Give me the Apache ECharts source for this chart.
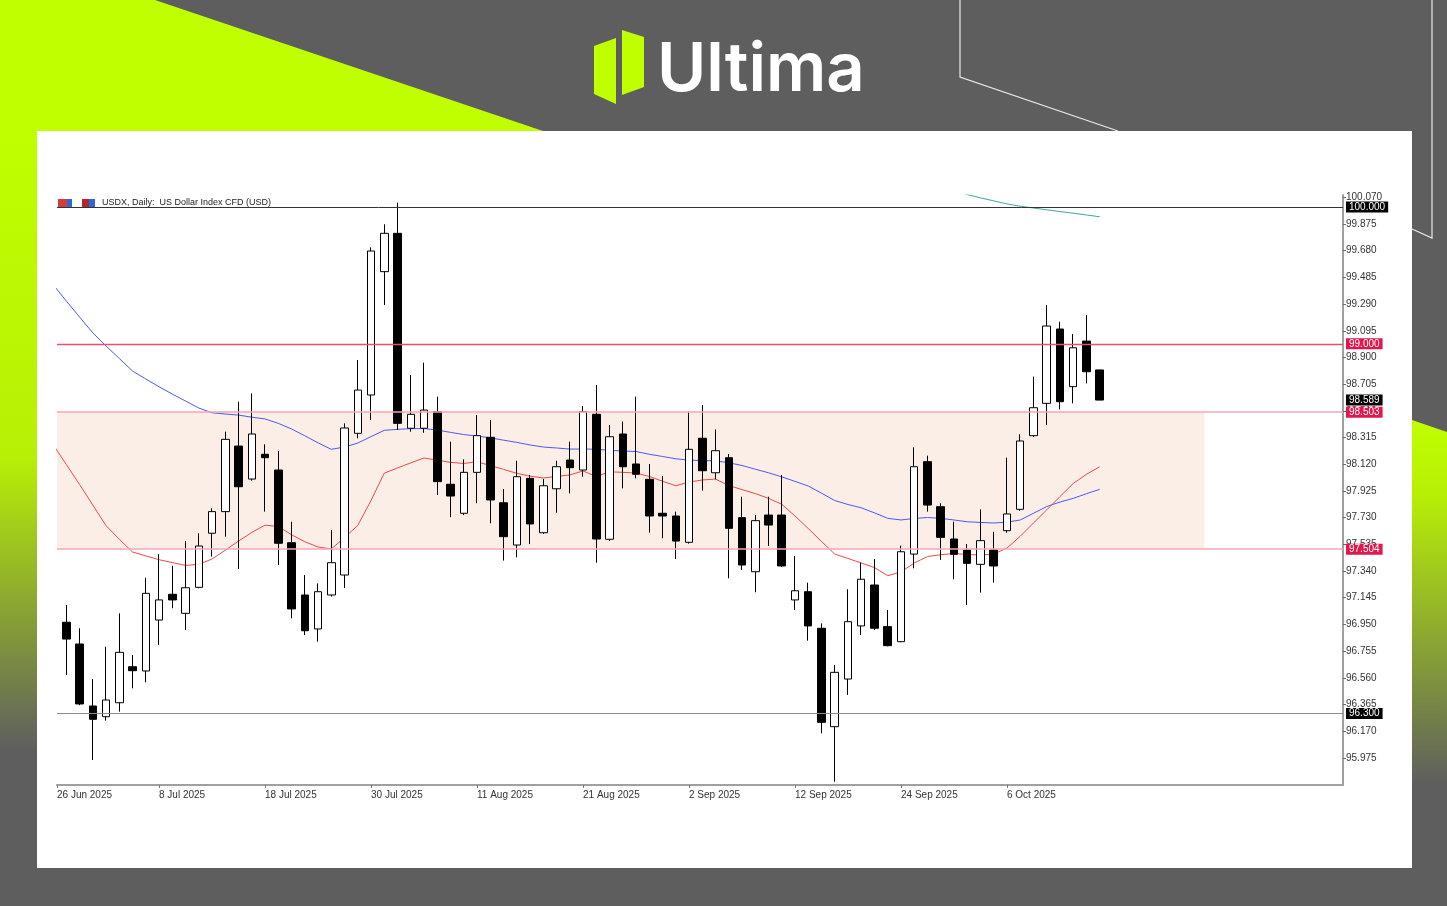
<!DOCTYPE html>
<html>
<head>
<meta charset="utf-8">
<script src="https://cdn.jsdelivr.net/npm/echarts@6.0.0/dist/echarts.min.js"></script>
<style>
  html, body { margin: 0; padding: 0; background: #5e5e5e; }
  #chart { width: 1447px; height: 906px; }
</style>
</head>
<body>
<div id="chart"></div>
<script>
// USDX daily, 26 Jun - 15 Oct 2025
const dates = [
  "26 Jun", "27 Jun", "30 Jun", "1 Jul", "2 Jul", "3 Jul", "4 Jul", "7 Jul", "8 Jul", "9 Jul",
  "10 Jul", "11 Jul", "14 Jul", "15 Jul", "16 Jul", "17 Jul", "18 Jul", "21 Jul", "22 Jul", "23 Jul",
  "24 Jul", "25 Jul", "28 Jul", "29 Jul", "30 Jul", "31 Jul", "1 Aug", "4 Aug", "5 Aug", "6 Aug",
  "7 Aug", "8 Aug", "11 Aug", "12 Aug", "13 Aug", "14 Aug", "15 Aug", "18 Aug", "19 Aug", "20 Aug",
  "21 Aug", "22 Aug", "25 Aug", "26 Aug", "27 Aug", "28 Aug", "29 Aug", "1 Sep", "2 Sep", "3 Sep",
  "4 Sep", "5 Sep", "8 Sep", "9 Sep", "10 Sep", "11 Sep", "12 Sep", "15 Sep", "16 Sep", "17 Sep",
  "18 Sep", "19 Sep", "22 Sep", "23 Sep", "24 Sep", "25 Sep", "26 Sep", "29 Sep", "30 Sep", "1 Oct",
  "2 Oct", "3 Oct", "6 Oct", "7 Oct", "8 Oct", "9 Oct", "10 Oct", "13 Oct", "14 Oct", "15 Oct"
];
const opens = [
  96.92, 96.966, 96.807, 96.354, 96.276, 96.378, 96.641, 96.61, 96.982, 97.17,
  97.031, 97.221, 97.616, 97.774, 98.253, 98.012, 98.193, 98.078, 97.547, 97.165,
  96.917, 97.165, 97.311, 98.346, 98.626, 99.527, 99.807, 98.383, 98.383, 98.504,
  97.974, 97.762, 98.061, 98.317, 97.839, 97.53, 98.017, 97.62, 97.941, 98.151,
  98.078, 98.485, 97.572, 98.341, 98.122, 98.01, 97.762, 97.742, 97.55, 98.31,
  98.058, 98.168, 97.73, 97.335, 97.749, 97.749, 97.129, 97.189, 96.922, 96.203,
  96.551, 96.939, 97.238, 96.934, 96.824, 97.464, 98.139, 97.81, 97.574, 97.494,
  97.389, 97.494, 97.635, 97.791, 98.329, 98.565, 99.108, 98.687, 99.02, 98.809
];
const closes = [
  97.08, 96.843, 96.369, 96.257, 96.398, 96.746, 96.612, 97.177, 97.129, 97.129,
  97.218, 97.523, 97.774, 98.302, 97.956, 98.341, 98.168, 97.543, 97.063, 96.904,
  97.189, 97.401, 98.385, 98.662, 99.678, 99.807, 98.419, 98.485, 98.516, 97.993,
  97.888, 98.061, 98.329, 97.859, 97.591, 98.029, 97.684, 97.963, 98.102, 98.095,
  98.504, 97.574, 98.321, 98.102, 98.047, 97.742, 97.742, 97.559, 98.229, 98.073,
  98.219, 97.652, 97.384, 97.708, 97.676, 97.377, 97.196, 96.939, 96.235, 96.6,
  96.97, 97.28, 96.922, 96.795, 97.481, 98.102, 97.822, 97.586, 97.462, 97.396,
  97.562, 97.377, 97.757, 98.29, 98.533, 99.13, 98.577, 98.971, 98.796, 98.589
];
const lows = [
  96.88, 96.581, 96.36, 95.96, 96.247, 96.313, 96.483, 96.527, 96.8, 97.068,
  96.909, 97.214, 97.445, 97.591, 97.355, 98.0, 97.774, 97.384, 96.995, 96.873,
  96.824, 97.153, 97.216, 98.31, 98.443, 99.283, 98.37, 98.358, 98.35, 97.895,
  97.733, 97.749, 97.835, 97.689, 97.416, 97.44, 97.537, 97.611, 97.766, 97.908,
  98.029, 97.401, 97.56, 97.944, 98.017, 97.62, 97.579, 97.428, 97.54, 97.927,
  98.01, 97.287, 97.348, 97.185, 97.523, 97.37, 97.055, 96.831, 96.155, 95.801,
  96.435, 96.873, 96.91, 96.79, 96.82, 97.36, 97.774, 97.421, 97.28, 97.092,
  97.182, 97.255, 97.62, 97.78, 98.32, 98.407, 98.521, 98.565, 98.711, 98.589
];
const highs = [
  97.12, 97.092, 96.922, 96.551, 96.787, 97.031, 96.727, 97.291, 97.464, 97.379,
  97.559, 97.616, 97.798, 98.358, 98.577, 98.638, 98.266, 98.217, 97.7, 97.311,
  97.25, 97.64, 98.419, 98.882, 99.705, 99.873, 100.031, 98.772, 98.862, 98.614,
  98.285, 98.156, 98.48, 98.443, 97.939, 98.146, 98.042, 98.012, 98.146, 98.285,
  98.546, 98.699, 98.407, 98.432, 98.614, 98.122, 98.034, 97.774, 98.504, 98.553,
  98.375, 98.195, 97.883, 97.749, 97.883, 98.042, 97.45, 97.255, 96.958, 96.654,
  97.207, 97.401, 97.428, 97.055, 97.525, 98.244, 98.183, 97.835, 97.7, 97.537,
  97.791, 97.627, 98.168, 98.339, 98.76, 99.283, 99.161, 99.071, 99.21, 98.809
];
// moving averages
const maBlue = [
  99.433, 99.313, 99.196, 99.08, 98.984, 98.893, 98.801, 98.743, 98.686, 98.633,
  98.582, 98.531, 98.496, 98.487, 98.479, 98.464, 98.451, 98.419, 98.378, 98.328,
  98.277, 98.229, 98.246, 98.275, 98.322, 98.368, 98.375, 98.38, 98.381, 98.37,
  98.353, 98.337, 98.326, 98.313, 98.296, 98.28, 98.261, 98.246, 98.239, 98.231,
  98.231, 98.23, 98.222, 98.217, 98.213, 98.193, 98.177, 98.16, 98.15, 98.147,
  98.145, 98.131, 98.111, 98.084, 98.058, 98.028, 97.995, 97.961, 97.909, 97.855,
  97.826, 97.802, 97.765, 97.725, 97.713, 97.724, 97.731, 97.725, 97.713, 97.7,
  97.695, 97.691, 97.697, 97.713, 97.762, 97.811, 97.844, 97.871, 97.905, 97.937
];
const maRed = [
  98.264, 98.119, 97.973, 97.822, 97.672, 97.573, 97.479, 97.451, 97.423, 97.402,
  97.381, 97.389, 97.428, 97.492, 97.559, 97.622, 97.675, 97.666, 97.605, 97.554,
  97.516, 97.501, 97.584, 97.673, 97.855, 98.055, 98.093, 98.13, 98.166, 98.15,
  98.134, 98.126, 98.138, 98.111, 98.083, 98.054, 98.033, 98.02, 98.031, 98.042,
  98.071, 98.031, 98.065, 98.061, 98.056, 98.031, 97.996, 97.963, 97.99, 98.005,
  98.012, 97.965, 97.935, 97.906, 97.871, 97.828, 97.742, 97.651, 97.556, 97.464,
  97.432, 97.399, 97.365, 97.306, 97.333, 97.399, 97.446, 97.459, 97.468, 97.461,
  97.457, 97.464, 97.508, 97.594, 97.691, 97.787, 97.884, 97.98, 98.047, 98.102
];
const maTealStart = 68;
const maTeal = [100.125, 100.09, 100.066, 100.044, 100.022, 100.005, 99.992, 99.979, 99.966, 99.954, 99.941, 99.928];

const xLabelIdx = [0, 8, 16, 24, 32, 40, 48, 56, 64, 72];
const xLabels = ["26 Jun 2025", "8 Jul 2025", "18 Jul 2025", "30 Jul 2025", "11 Aug 2025",
  "21 Aug 2025", "2 Sep 2025", "12 Sep 2025", "24 Sep 2025", "6 Oct 2025"];
const yTicks = [95.975, 96.170, 96.365, 96.560, 96.755, 96.950, 97.145, 97.340, 97.535, 97.730,
  97.925, 98.120, 98.315, 98.510, 98.705, 98.900, 99.095, 99.290, 99.485, 99.680, 99.875, 100.070];

// levels drawn on the chart
const levelTop = 100.000;
const levelRes = 99.000;
const zoneHigh = 98.503;
const zoneLow = 97.504;
const zoneEnd = 86.9;
const levelLow = 96.300;
const lastPrice = 98.589;

const xMin = 0.3, xMax = 97.36;
const yMin = 95.777, yMax = 100.087;

const LIME = "#bfff00";
const GRAY = "#5e5e5e";
const RED = "#e3174b";

const xTickVals = xLabelIdx.map(i => Math.max(i, xMin));
const xLabelFor = v => {
  let best = 0;
  xTickVals.forEach((t, i) => { if (Math.abs(t - v) < Math.abs(xTickVals[best] - v)) best = i; });
  return xLabels[best];
};

const chart = echarts.init(document.getElementById("chart"));

const priceTag = (value, bg, lineColor, width) => ({
  yAxis: value,
  lineStyle: { color: lineColor, width: width, type: "solid" },
  label: {
    show: true,
    position: "end",
    distance: 3,
    formatter: value.toFixed(3),
    color: "#fff",
    backgroundColor: bg,
    padding: [1, 3, 0, 3],
    fontSize: 10,
    fontFamily: "Liberation Sans"
  }
});

chart.setOption({
  backgroundColor: GRAY,
  animation: false,
  graphic: {
    elements: [
      { type: "polygon", z: -10, silent: true,
        shape: { points: [[0, 0], [155, 0], [543, 131], [0, 131]] }, style: { fill: LIME } },
      { type: "rect", z: -10, silent: true,
        shape: { x: 0, y: 131, width: 37, height: 775 },
        style: { fill: new echarts.graphic.LinearGradient(0, 0, 0, 1, [
          { offset: 0, color: LIME }, { offset: 0.42, color: "#b8f005" }, { offset: 0.8, color: GRAY }, { offset: 1, color: GRAY }]) } },
      { type: "polygon", z: -10, silent: true,
        shape: { points: [[1412, 420], [1447, 432], [1447, 906], [1412, 906]] },
        style: { fill: new echarts.graphic.LinearGradient(0, 0, 0, 1, [
          { offset: 0, color: LIME }, { offset: 0.15, color: "#b8f005" }, { offset: 0.75, color: GRAY }, { offset: 1, color: GRAY }]) } },
      { type: "polyline", z: -9, silent: true,
        shape: { points: [[960, 0], [960, 77], [1118, 131]] }, style: { stroke: "#e8e8e8", lineWidth: 1.2, fill: null } },
      { type: "polyline", z: -9, silent: true,
        shape: { points: [[1432, 0], [1432, 238], [1412, 229]] }, style: { stroke: "#e8e8e8", lineWidth: 1.2, fill: null } },
      { type: "rect", z: -8, silent: true,
        shape: { x: 37, y: 131, width: 1375, height: 737 }, style: { fill: "#fff" } },
      // logo
      { type: "polygon", z: -8, silent: true,
        shape: { points: [[594, 46], [616, 38], [616, 104], [594, 94]] }, style: { fill: LIME } },
      { type: "polygon", z: -8, silent: true,
        shape: { points: [[622, 30], [644, 37], [644, 87], [622, 95]] }, style: { fill: LIME } },
      { type: "text", z: -8, silent: true,
        style: { text: "Ultima", x: 657, y: 71, fill: "#fff", font: "600 67px Inter", textAlign: "left", textVerticalAlign: "middle" } },
      // chart caption
      { type: "rect", z: 10, silent: true, shape: { x: 58, y: 199, width: 9, height: 8 }, style: { fill: "#d83a3a" } },
      { type: "rect", z: 10, silent: true, shape: { x: 67, y: 199, width: 5, height: 8 }, style: { fill: "#2f66d8" } },
      { type: "rect", z: 10, silent: true, shape: { x: 82, y: 199, width: 7, height: 8 }, style: { fill: "#b02828" } },
      { type: "rect", z: 10, silent: true, shape: { x: 89, y: 199, width: 6, height: 8 }, style: { fill: "#2f66d8" } },
      { type: "text", z: 10, silent: true,
        style: { text: "USDX, Daily:  US Dollar Index CFD (USD)", x: 102, y: 203, fill: "#222",
          font: "9px Liberation Sans", textAlign: "left", textVerticalAlign: "middle" } }
    ]
  },
  grid: { left: 57, right: 104, top: 195, bottom: 121, containLabel: false },
  xAxis: {
    type: "value",
    min: xMin,
    max: xMax,
    splitLine: { show: false },
    axisLine: { show: true, onZero: false, lineStyle: { color: "#a0a0a0", width: 2 } },
    axisTick: { show: true, customValues: xTickVals, length: 3, lineStyle: { color: "#777" } },
    axisLabel: {
      customValues: xTickVals,
      formatter: xLabelFor,
      align: "left",
      margin: 5,
      color: "#333",
      fontSize: 10,
      fontFamily: "Liberation Sans"
    }
  },
  yAxis: {
    type: "value",
    position: "right",
    min: yMin,
    max: yMax,
    scale: true,
    splitLine: { show: false },
    axisLine: { show: true, lineStyle: { color: "#a0a0a0", width: 2 } },
    axisTick: { show: true, customValues: yTicks, length: 3, lineStyle: { color: "#666" } },
    axisLabel: {
      customValues: yTicks,
      formatter: v => v.toFixed(3),
      margin: 3,
      color: "#333",
      fontSize: 10,
      fontFamily: "Liberation Sans"
    }
  },
  series: [
    {
      name: "levels",
      type: "line",
      data: [],
      z: 1,
      markArea: {
        silent: true,
        itemStyle: { color: "#faeee6" },
        data: [[{ xAxis: xMin, yAxis: zoneHigh }, { xAxis: zoneEnd, yAxis: zoneLow }]]
      },
      markLine: {
        silent: true,
        symbol: ["none", "none"],
        animation: false,
        data: [
          priceTag(levelTop, "#000", "#333", 1),
          priceTag(levelRes, RED, "#e8506e", 1.3),
          priceTag(zoneHigh, RED, "#f4a6b8", 1.5),
          priceTag(zoneLow, RED, "#f4a6b8", 1.5),
          priceTag(levelLow, "#000", "#8c8c8c", 1.2)
        ]
      }
    },
    {
      name: "last",
      type: "line",
      data: [],
      z: 4,
      markLine: {
        silent: true,
        symbol: ["none", "none"],
        animation: false,
        data: [priceTag(lastPrice, "#000", "rgba(0,0,0,0)", 1)]
      }
    },
    {
      name: "MA blue",
      type: "line",
      z: 2,
      data: maBlue.map((v, i) => [i, v]),
      showSymbol: false,
      symbol: "none",
      lineStyle: { color: "#4a5af0", width: 1 }
    },
    {
      name: "MA red",
      type: "line",
      z: 2,
      data: maRed.map((v, i) => [i, v]),
      showSymbol: false,
      symbol: "none",
      lineStyle: { color: "#f04848", width: 1 }
    },
    {
      name: "MA teal",
      type: "line",
      z: 2,
      data: maTeal.map((v, i) => [maTealStart + i, v]),
      showSymbol: false,
      symbol: "none",
      lineStyle: { color: "#3aa89e", width: 1 }
    },
    {
      name: "USDX",
      type: "candlestick",
      z: 3,
      barWidth: 8,
      data: dates.map((d, i) => [i, opens[i], closes[i], lows[i], highs[i]]),
      itemStyle: {
        color: "#fff",
        color0: "#000",
        borderColor: "#000",
        borderColor0: "#000",
        borderWidth: 1
      }
    }
  ]
});
</script>
</body>
</html>
